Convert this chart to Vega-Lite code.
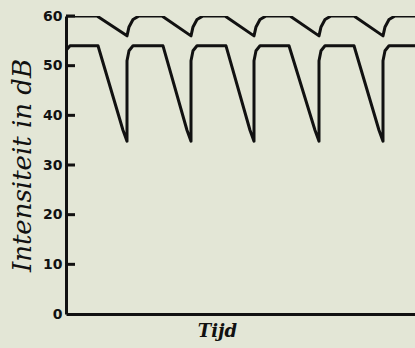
{
  "$schema": "https://vega.github.io/schema/vega-lite/v6.json",
  "width": 349,
  "height": 298,
  "autosize": {"type": "none"},
  "padding": {"left": 66, "top": 16, "right": 0, "bottom": 34},
  "background": "#e3e6d6",
  "config": {
    "view": {"stroke": null},
    "axis": {"grid": false, "domainColor": "#111111", "labelColor": "#111111", "titleColor": "#111111"}
  },
  "datasets": {
    "curves": [
      {"s": "upper", "i": 1, "t": 1, "db": 60},
      {"s": "upper", "i": 2, "t": 31, "db": 60},
      {"s": "upper", "i": 3, "t": 61, "db": 56},
      {"s": "upper", "i": 4, "t": 63, "db": 57.8},
      {"s": "upper", "i": 5, "t": 67, "db": 59.3},
      {"s": "upper", "i": 6, "t": 73, "db": 60},
      {"s": "upper", "i": 7, "t": 96, "db": 60},
      {"s": "upper", "i": 8, "t": 125, "db": 56},
      {"s": "upper", "i": 9, "t": 127, "db": 57.8},
      {"s": "upper", "i": 10, "t": 131, "db": 59.3},
      {"s": "upper", "i": 11, "t": 137, "db": 60},
      {"s": "upper", "i": 12, "t": 159, "db": 60},
      {"s": "upper", "i": 13, "t": 188, "db": 56},
      {"s": "upper", "i": 14, "t": 190, "db": 57.8},
      {"s": "upper", "i": 15, "t": 194, "db": 59.3},
      {"s": "upper", "i": 16, "t": 200, "db": 60},
      {"s": "upper", "i": 17, "t": 224, "db": 60},
      {"s": "upper", "i": 18, "t": 253, "db": 56},
      {"s": "upper", "i": 19, "t": 255, "db": 57.8},
      {"s": "upper", "i": 20, "t": 259, "db": 59.3},
      {"s": "upper", "i": 21, "t": 265, "db": 60},
      {"s": "upper", "i": 22, "t": 288, "db": 60},
      {"s": "upper", "i": 23, "t": 317, "db": 56},
      {"s": "upper", "i": 24, "t": 319, "db": 57.8},
      {"s": "upper", "i": 25, "t": 323, "db": 59.3},
      {"s": "upper", "i": 26, "t": 329, "db": 60},
      {"s": "upper", "i": 27, "t": 349, "db": 60},
      {"s": "lower", "i": 1, "t": 1, "db": 53.3},
      {"s": "lower", "i": 2, "t": 4, "db": 54},
      {"s": "lower", "i": 3, "t": 32, "db": 54},
      {"s": "lower", "i": 4, "t": 57, "db": 37},
      {"s": "lower", "i": 5, "t": 61, "db": 34.8},
      {"s": "lower", "i": 6, "t": 61, "db": 51},
      {"s": "lower", "i": 7, "t": 63, "db": 53},
      {"s": "lower", "i": 8, "t": 67, "db": 54},
      {"s": "lower", "i": 9, "t": 97, "db": 54},
      {"s": "lower", "i": 10, "t": 121, "db": 37},
      {"s": "lower", "i": 11, "t": 125, "db": 34.8},
      {"s": "lower", "i": 12, "t": 125, "db": 51},
      {"s": "lower", "i": 13, "t": 127, "db": 53},
      {"s": "lower", "i": 14, "t": 131, "db": 54},
      {"s": "lower", "i": 15, "t": 160, "db": 54},
      {"s": "lower", "i": 16, "t": 184, "db": 37},
      {"s": "lower", "i": 17, "t": 188, "db": 34.8},
      {"s": "lower", "i": 18, "t": 188, "db": 51},
      {"s": "lower", "i": 19, "t": 190, "db": 53},
      {"s": "lower", "i": 20, "t": 194, "db": 54},
      {"s": "lower", "i": 21, "t": 223, "db": 54},
      {"s": "lower", "i": 22, "t": 249, "db": 37},
      {"s": "lower", "i": 23, "t": 253, "db": 34.8},
      {"s": "lower", "i": 24, "t": 253, "db": 51},
      {"s": "lower", "i": 25, "t": 255, "db": 53},
      {"s": "lower", "i": 26, "t": 259, "db": 54},
      {"s": "lower", "i": 27, "t": 288, "db": 54},
      {"s": "lower", "i": 28, "t": 313, "db": 37},
      {"s": "lower", "i": 29, "t": 317, "db": 34.8},
      {"s": "lower", "i": 30, "t": 317, "db": 51},
      {"s": "lower", "i": 31, "t": 319, "db": 53},
      {"s": "lower", "i": 32, "t": 323, "db": 54},
      {"s": "lower", "i": 33, "t": 349, "db": 54}
    ],
    "tickrows": [
      {"v": 10, "a": 0, "b": 9}, {"v": 20, "a": 0, "b": 9}, {"v": 30, "a": 0, "b": 9},
      {"v": 40, "a": 0, "b": 9}, {"v": 50, "a": 0, "b": 9}, {"v": 60, "a": 0, "b": 9}
    ]
  },
  "layer": [
    {
      "data": {"name": "tickrows"},
      "mark": {"type": "rule", "color": "#111111", "strokeWidth": 3},
      "encoding": {
        "y": {"field": "v", "type": "quantitative", "scale": {"domain": [0, 60], "nice": false}},
        "x": {"field": "a", "type": "quantitative", "scale": {"domain": [0, 349], "nice": false, "zero": false}},
        "x2": {"field": "b"}
      }
    },
    {
      "data": {"name": "curves"},
      "mark": {"type": "line", "color": "#111111", "strokeWidth": 3, "strokeJoin": "round", "clip": true},
      "encoding": {
        "x": {
          "field": "t", "type": "quantitative",
          "axis": {
            "title": "Tijd", "labels": false, "ticks": false, "domainWidth": 3,
            "titleFont": "DejaVu Serif", "titleFontStyle": "italic", "titleFontWeight": "bold", "titleFontSize": 18,
            "titleX": 151, "titlePadding": 8
          }
        },
        "y": {
          "field": "db", "type": "quantitative",
          "axis": {
            "title": "Intensiteit in dB", "values": [0, 10, 20, 30, 40, 50, 60],
            "domainWidth": 3, "ticks": false, "labelPadding": 4,
            "labelFont": "DejaVu Sans", "labelFontWeight": "bold", "labelFontSize": 14,
            "titleFont": "DejaVu Serif", "titleFontStyle": "italic", "titleFontWeight": "normal", "titleFontSize": 26,
            "titleX": -44, "titleY": 149, "titleAngle": -90, "titleAlign": "center", "titleBaseline": "middle"
          }
        },
        "detail": {"field": "s", "type": "nominal"},
        "order": {"field": "i", "type": "quantitative"}
      }
    }
  ]
}
